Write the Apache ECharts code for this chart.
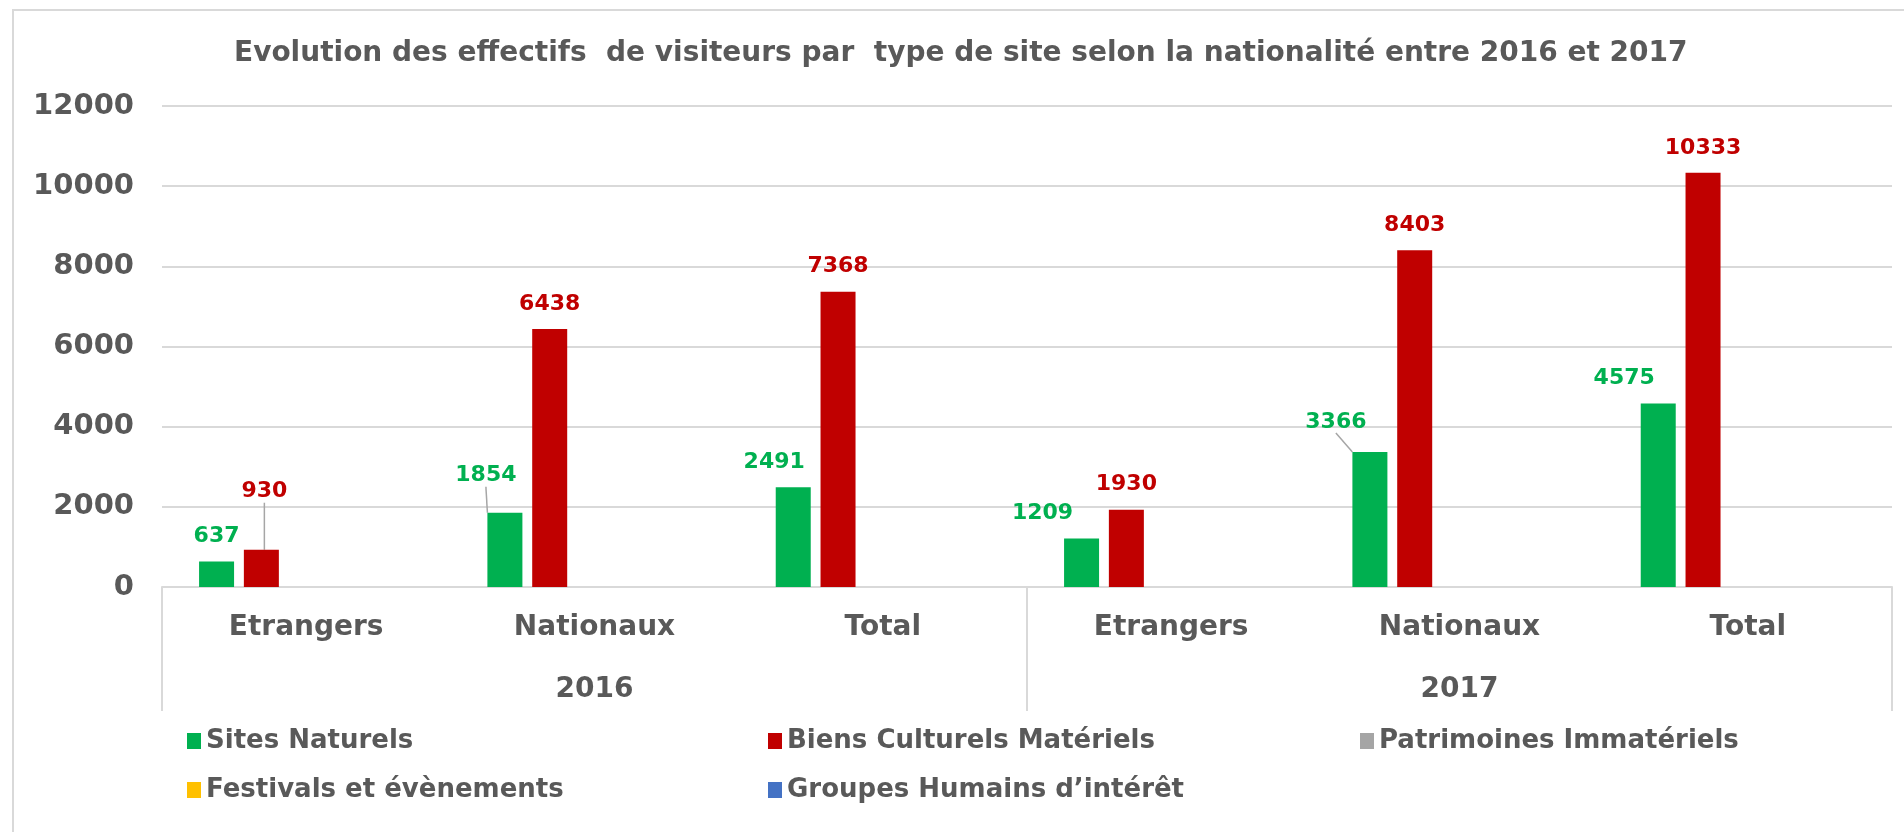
<!DOCTYPE html>
<html>
<head>
<meta charset="utf-8">
<title>Evolution des effectifs</title>
<script src="https://cdn.jsdelivr.net/npm/echarts@6/dist/echarts.min.js"></script>
<style>
  html, body { margin: 0; padding: 0; background: #fff; }
  #chart { width: 1904px; height: 832px; }
</style>
</head>
<body>
<div id="chart"></div>
<script>
// donnees
const categories = ["Etrangers", "Nationaux", "Total", "Etrangers", "Nationaux", "Total"];
const years = ["2016", "2017"];
const sitesNaturels = [637, 1854, 2491, 1209, 3366, 4575];
const biensCulturels = [930, 6438, 7368, 1930, 8403, 10333];
const patrimoines = [null, null, null, null, null, null];
const festivals = [null, null, null, null, null, null];
const groupesHumains = [null, null, null, null, null, null];
const yTicks = [0, 2000, 4000, 6000, 8000, 10000, 12000];

// etiquettes deplacees a la main (comme dans Excel)
const labelShift = {
  "0-1": { dx: -19, dy: -12, line: true },
  "0-2": { dx: -19, dy: 0 },
  "0-3": { dx: -39, dy: 0 },
  "0-4": { dx: -34, dy: -5, line: true },
  "0-5": { dx: -34, dy: 0 },
  "1-0": { dx: 3, dy: -33, line: true },
};

const grey = "#595959";
const font = "DejaVu Sans";

function items(values, s) {
  return values.map((v, i) => {
    const sh = labelShift[s + "-" + i];
    return { value: v, labelLine: { show: !!(sh && sh.line) } };
  });
}

function barSeries(name, values, color, s, withLabel) {
  return {
    name: name,
    type: "bar",
    data: withLabel ? items(values, s) : values,
    barWidth: 35,
    barGap: "28%",
    itemStyle: { color: color },
    label: {
      show: withLabel,
      position: "top",
      distance: 14,
      color: color,
      fontFamily: font,
      fontWeight: "bold",
      fontSize: 22,
    },
    labelLine: { lineStyle: { color: "#a6a6a6", width: 1.5 } },
    labelLayout: function (p) {
      const sh = labelShift[p.seriesIndex + "-" + p.dataIndex];
      return sh ? { dx: sh.dx, dy: sh.dy } : {};
    },
  };
}

const legendText = { color: grey, fontFamily: font, fontWeight: "bold", fontSize: 26, lineHeight: 30 };

const myChart = echarts.init(document.getElementById("chart"));
const option = {
  animation: false,
  textStyle: { fontFamily: font },
  title: {
    text: "Evolution des effectifs  de visiteurs par  type de site selon la nationalité entre 2016 et 2017",
    left: 234,
    top: 40,
    padding: 0,
    textStyle: { color: grey, fontFamily: font, fontWeight: "bold", fontSize: 28 },
  },
  graphic: [
    {
      type: "polyline",
      shape: { points: [[13, 832], [13, 10], [1904, 10]] },
      style: { stroke: "#d9d9d9", lineWidth: 2, fill: null },
    },
  ],
  legend: [
    {
      data: ["Sites Naturels", "Festivals et évènements"],
      orient: "vertical",
      left: 182,
      top: 721,
      itemWidth: 14,
      itemHeight: 16,
      itemGap: 19,
      icon: "rect",
      textStyle: legendText,
    },
    {
      data: ["Biens Culturels Matériels", "Groupes Humains d’intérêt"],
      orient: "vertical",
      left: 763,
      top: 721,
      itemWidth: 14,
      itemHeight: 16,
      itemGap: 19,
      icon: "rect",
      textStyle: legendText,
    },
    {
      data: ["Patrimoines Immatériels"],
      orient: "vertical",
      left: 1355,
      top: 721,
      itemWidth: 14,
      itemHeight: 16,
      icon: "rect",
      textStyle: legendText,
    },
  ],
  grid: { left: 162, right: 12, top: 106, bottom: 245, containLabel: false },
  xAxis: [
    {
      type: "category",
      data: categories,
      position: "bottom",
      axisLine: { show: true, lineStyle: { color: "#d9d9d9", width: 2 } },
      axisTick: { show: false },
      axisLabel: { interval: 0, margin: 27, color: grey, fontFamily: font, fontWeight: "bold", fontSize: 28 },
    },
    {
      type: "category",
      data: years,
      position: "bottom",
      axisLine: { show: false },
      axisTick: { show: true, length: 124, lineStyle: { color: "#d9d9d9", width: 2 } },
      axisLabel: { interval: 0, margin: 89, color: grey, fontFamily: font, fontWeight: "bold", fontSize: 28 },
    },
  ],
  yAxis: {
    type: "value",
    min: yTicks[0],
    max: yTicks[yTicks.length - 1],
    interval: 2000,
    axisLine: { show: false },
    axisTick: { show: false },
    splitLine: { lineStyle: { color: "#d9d9d9", width: 2 } },
    axisLabel: {
      margin: 28,
      color: grey,
      fontFamily: font,
      fontWeight: "bold",
      fontSize: 29,
      formatter: (v) => String(v),
    },
  },
  series: [
    barSeries("Sites Naturels", sitesNaturels, "#00b050", 0, true),
    barSeries("Biens Culturels Matériels", biensCulturels, "#c00000", 1, true),
    barSeries("Patrimoines Immatériels", patrimoines, "#a5a5a5", 2, false),
    barSeries("Festivals et évènements", festivals, "#ffc000", 3, false),
    barSeries("Groupes Humains d’intérêt", groupesHumains, "#4472c4", 4, false),
  ],
};
option && myChart.setOption(option);
window.addEventListener("resize", () => myChart.resize());
</script>
</body>
</html>
